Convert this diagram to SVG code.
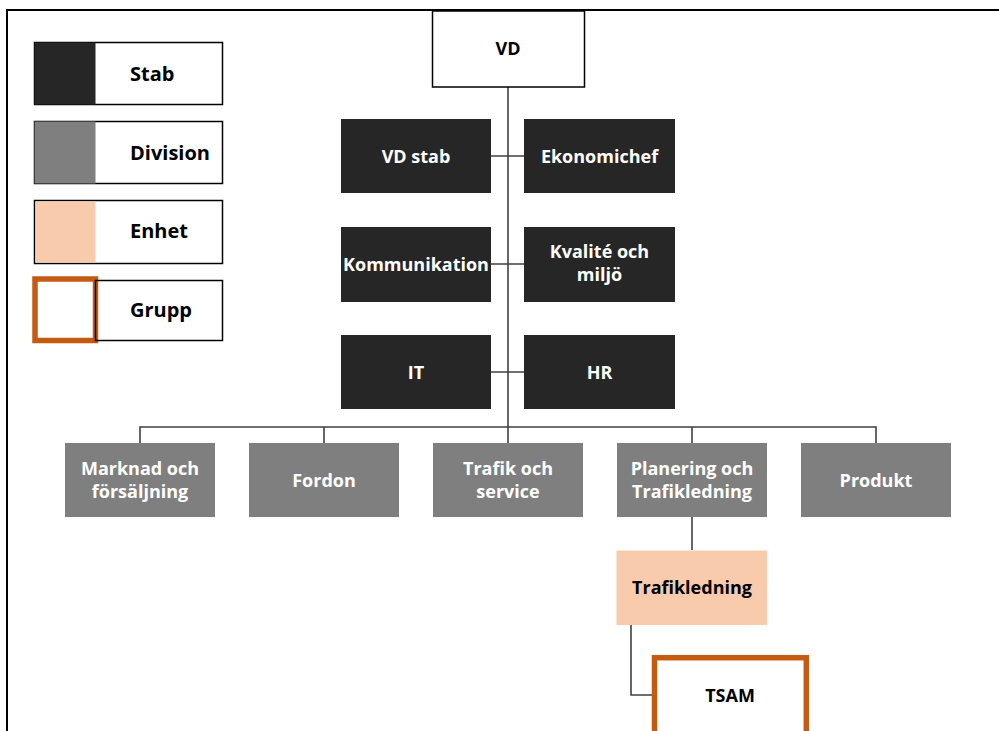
<svg xmlns="http://www.w3.org/2000/svg" width="999" height="731" viewBox="0 0 999 731">
  <style>
    .t { font-family: "Open Sans", "Liberation Sans", sans-serif; font-weight: 700; font-size: 18px; text-anchor: middle; }
    .w { fill: #ffffff; }
    .k { fill: #000000; }
    .lg { font-family: "Open Sans", "Liberation Sans", sans-serif; font-weight: 700; font-size: 20px; fill: #000000; }
    .stab { fill: #262626; }
    .div { fill: #7f7f7f; }
    .enh { fill: #f8cbad; }
    .frame { stroke: #000000; stroke-width: 2; fill: none; }
    .box { fill: #ffffff; stroke: #000000; stroke-width: 1.5; }
    .grp { fill: #ffffff; stroke: #c55a11; stroke-width: 5.5; }
    .conn { stroke: #404040; stroke-width: 1.6; fill: none; }
  </style>

  <rect width="999" height="731" fill="#ffffff"/>

  <!-- outer frame: top and left edge -->
  <path class="frame" d="M7 731 V10 H999"/>

  <!-- legend -->
  <g id="legend">
    <g id="legend-stab">
      <rect class="box" x="34.5" y="42.5" width="188" height="62"/>
      <rect class="stab" x="34.5" y="42.5" width="61" height="62"/>
      <text class="lg" x="130" y="81">Stab</text>
    </g>
    <g id="legend-division">
      <rect class="box" x="34.5" y="121.5" width="188" height="62"/>
      <rect class="div" x="34.5" y="121.5" width="61" height="62"/>
      <text class="lg" x="130" y="160">Division</text>
    </g>
    <g id="legend-enhet">
      <rect class="box" x="34.5" y="200.5" width="188" height="63"/>
      <rect class="enh" x="35.5" y="201.5" width="60" height="61"/>
      <text class="lg" x="130" y="238">Enhet</text>
    </g>
    <g id="legend-grupp">
      <rect class="grp" x="35" y="279" width="60.5" height="61.5"/>
      <rect x="95.5" y="280.5" width="127" height="60" fill="none" stroke="#000000" stroke-width="1.5"/>
      <text class="lg" x="130" y="317">Grupp</text>
    </g>
  </g>

  <!-- connectors -->
  <g id="connectors">
    <path class="conn" stroke="#595959" stroke-width="2" d="M508 87 V427"/>
    <path class="conn" d="M491 156 H524 M491 264 H524 M491 372 H524"/>
    <path class="conn" stroke="#000000" d="M140 443 V427 H876 V443 M324 427 V443 M508 427 V443 M692 427 V443"/>
    <path class="conn" d="M692 517 V550"/>
    <path class="conn" d="M631 625 V695 H652"/>
  </g>

  <!-- top -->
  <g id="vd">
    <rect class="box" x="432.5" y="11" width="152" height="76"/>
    <text class="t k" x="508" y="55">VD</text>
  </g>

  <!-- staff units -->
  <g id="vd-stab">
    <rect class="stab" x="341" y="119" width="150" height="74"/>
    <text class="t w" x="416" y="163">VD stab</text>
  </g>
  <g id="ekonomichef">
    <rect class="stab" x="524" y="119" width="151" height="74"/>
    <text class="t w" x="599.5" y="163">Ekonomichef</text>
  </g>
  <g id="kommunikation">
    <rect class="stab" x="341" y="227" width="150" height="75"/>
    <text class="t w" x="416" y="271">Kommunikation</text>
  </g>
  <g id="kvalite">
    <rect class="stab" x="524" y="227" width="151" height="75"/>
    <text class="t w" x="599.5" y="258">Kvalité och</text>
    <text class="t w" x="599.5" y="281">miljö</text>
  </g>
  <g id="it">
    <rect class="stab" x="341" y="335" width="150" height="74"/>
    <text class="t w" x="416" y="379">IT</text>
  </g>
  <g id="hr">
    <rect class="stab" x="524" y="335" width="151" height="74"/>
    <text class="t w" x="599.5" y="379">HR</text>
  </g>

  <!-- divisions -->
  <g id="marknad">
    <rect class="div" x="65" y="443" width="150" height="74"/>
    <text class="t w" x="140" y="475">Marknad och</text>
    <text class="t w" x="140" y="498">försäljning</text>
  </g>
  <g id="fordon">
    <rect class="div" x="249" y="443" width="150" height="74"/>
    <text class="t w" x="324" y="487">Fordon</text>
  </g>
  <g id="trafik-service">
    <rect class="div" x="433" y="443" width="150" height="74"/>
    <text class="t w" x="508" y="475">Trafik och</text>
    <text class="t w" x="508" y="498">service</text>
  </g>
  <g id="planering">
    <rect class="div" x="617" y="443" width="150" height="74"/>
    <text class="t w" x="692" y="475">Planering och</text>
    <text class="t w" x="692" y="498">Trafikledning</text>
  </g>
  <g id="produkt">
    <rect class="div" x="801" y="443" width="150" height="74"/>
    <text class="t w" x="876" y="487">Produkt</text>
  </g>

  <!-- unit -->
  <g id="trafikledning">
    <rect class="enh" x="616.5" y="550.5" width="150.5" height="74.5"/>
    <text class="t k" x="692" y="594">Trafikledning</text>
  </g>

  <!-- group -->
  <g id="tsam">
    <rect class="grp" x="654.5" y="657.7" width="151.8" height="90"/>
    <text class="t k" x="730" y="702">TSAM</text>
  </g>
</svg>
